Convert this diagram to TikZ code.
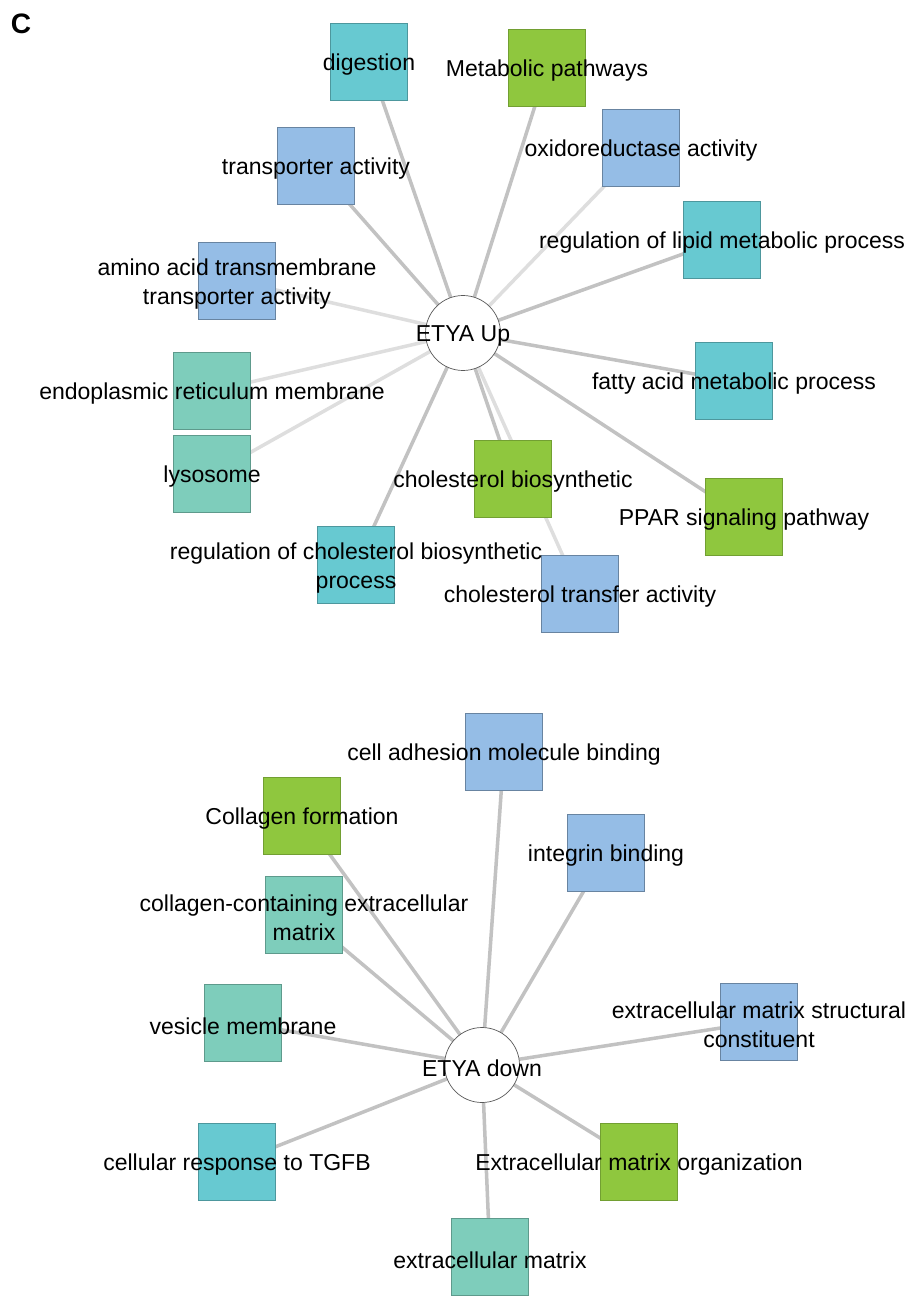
\documentclass[tikz,border=0pt]{standalone}
\usepackage{fontspec}
\setmainfont{Liberation Sans}
\usepackage{tikz}
\usetikzlibrary{backgrounds}
\definecolor{gobleu}{HTML}{95BDE6}
\definecolor{gocyan}{HTML}{67C9D1}
\definecolor{goteal}{HTML}{7ECDBB}
\definecolor{govert}{HTML}{8FC73E}

\begin{document}
\begin{tikzpicture}[
    x=0.02cm, y=-0.02cm,
    font=\fontsize{13.1}{16.5}\selectfont,
    terme/.style={rectangle, minimum size=1.54cm, inner sep=0pt, thin},
    mf/.style={terme, fill=gobleu, draw=gobleu!70!black},
    bp/.style={terme, fill=gocyan, draw=gocyan!75!black},
    cc/.style={terme, fill=goteal, draw=goteal!75!black},
    voie/.style={terme, fill=govert, draw=govert!80!black},
    txt/.style={align=center, inner sep=0pt, text=black, yshift=-0.06cm},
    hub/.style={circle, draw=gray!70!black, fill=white, thin, minimum size=1.5cm,
      inner sep=0pt},
    lien/.style={-, draw=gray!48, line width=2pt},
    lienpale/.style={-, draw=gray!26, line width=2pt}
  ]
    \useasboundingbox (0,0) rectangle (909,1297);
    \node[font=\fontsize{16}{18}\bfseries\selectfont] (panel) at (21,24) {C};

    \node[hub] (up) at (463,333) {};
    \node[txt] (uplbl) at (up) {ETYA Up};

    \node[bp, label={[txt]center:digestion}] (dig) at (369,62) {};
    \node[voie, label={[txt]center:Metabolic pathways}] (meta) at (547,68) {};
    \node[mf, label={[txt]center:oxidoreductase activity}] (oxi) at (641,148) {};
    \node[bp, label={[txt]center:regulation of lipid metabolic process}] (lipreg) at (722,240) {};
    \node[bp, label={[txt]center:fatty acid metabolic process}] (fatty) at (734,381) {};
    \node[voie, label={[txt]center:PPAR signaling pathway}] (ppar) at (744,517) {};
    \node[mf, label={[txt]center:cholesterol transfer activity}] (choltr) at (580,594) {};
    \node[voie, label={[txt]center:cholesterol biosynthetic}] (cholbio) at (513,479) {};
    \node[bp, label={[txt]center:regulation of cholesterol biosynthetic\\process}] (cholreg) at (356,565) {};
    \node[cc, label={[txt]center:lysosome}] (lyso) at (212,474) {};
    \node[cc, label={[txt]center:endoplasmic reticulum membrane}] (er) at (212,391) {};
    \node[mf, label={[txt]center:amino acid transmembrane\\transporter activity}] (amino) at (237,281) {};
    \node[mf, label={[txt]center:transporter activity}] (transp) at (316,166) {};

    \node[hub] (down) at (482,1065) {};
    \node[txt] (downlbl) at (down) {ETYA down};

    \node[mf, label={[txt]center:cell adhesion molecule binding}] (cam) at (504,752) {};
    \node[voie, label={[txt]center:Collagen formation}] (colf) at (302,816) {};
    \node[cc, label={[txt]center:collagen-containing extracellular\\matrix}] (colecm) at (304,915) {};
    \node[mf, label={[txt]center:integrin binding}] (integ) at (606,853) {};
    \node[mf, label={[txt]center:extracellular matrix structural\\constituent}] (ecmsc) at (759,1022) {};
    \node[cc, label={[txt]center:vesicle membrane}] (vesic) at (243,1023) {};
    \node[bp, label={[txt]center:cellular response to TGFB}] (tgfb) at (237,1162) {};
    \node[voie, label={[txt]center:Extracellular matrix organization}] (ecmorg) at (639,1162) {};
    \node[cc, label={[txt]center:extracellular matrix}] (ecm) at (490,1257) {};

    \begin{scope}[on background layer]
      \foreach \t in {dig,meta,lipreg,fatty,ppar,cholbio,cholreg,transp}
        \draw[lien] (up.center) -- (\t.center);
      \foreach \t in {oxi,choltr,lyso,er,amino}
        \draw[lienpale] (up.center) -- (\t.center);
      \foreach \t in {cam,colf,colecm,integ,ecmsc,vesic,tgfb,ecmorg,ecm}
        \draw[lien] (down.center) -- (\t.center);
    \end{scope}
  \end{tikzpicture}
\end{document}
